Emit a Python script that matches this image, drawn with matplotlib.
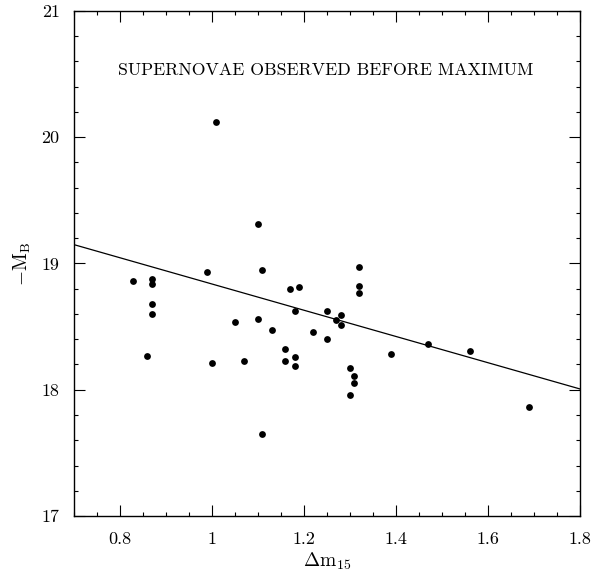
import matplotlib
matplotlib.use("Agg")
import matplotlib.pyplot as plt
import numpy as np
from matplotlib.ticker import MultipleLocator, FuncFormatter

plt.rcParams["font.family"] = ["cmr10", "DejaVu Serif"]
plt.rcParams["mathtext.fontset"] = "cm"
plt.rcParams["axes.formatter.use_mathtext"] = True

# decline rate and peak magnitude (-M_B) of the supernovae
dm15 = [0.83, 0.87, 0.87, 0.87, 0.87, 0.86, 0.99, 1.00, 1.05, 1.07,
        1.10, 1.11, 1.10, 1.11, 1.13, 1.16, 1.16, 1.17, 1.19, 1.18,
        1.18, 1.18, 1.22, 1.25, 1.25, 1.27, 1.28, 1.28, 1.32, 1.32,
        1.32, 1.30, 1.31, 1.31, 1.30, 1.39, 1.47, 1.56, 1.69, 1.01]
neg_mb = [18.86, 18.88, 18.84, 18.68, 18.60, 18.27, 18.93, 18.21, 18.54, 18.23,
          19.31, 18.95, 18.56, 17.65, 18.47, 18.32, 18.23, 18.80, 18.81, 18.62,
          18.26, 18.19, 18.46, 18.62, 18.40, 18.55, 18.59, 18.51, 18.97, 18.82,
          18.77, 18.17, 18.11, 18.05, 17.96, 18.28, 18.36, 18.31, 17.86, 20.12]

# linear fit: -M_B = intercept + slope * dm15
fit_slope = -1.04
fit_intercept = 19.878

fig = plt.figure(figsize=(6.03, 5.74), dpi=100)
ax = fig.add_axes([0.122, 0.101, 0.840, 0.880])

ax.plot(dm15, neg_mb, "o", color="black", ms=4.9, mew=0)
xfit = np.array([0.7, 1.8])
ax.plot(xfit, np.polyval([fit_slope, fit_intercept], xfit), color="black", lw=0.9)

ax.set_xlim(0.7, 1.8)
ax.set_ylim(17, 21)
ax.xaxis.set_major_locator(MultipleLocator(0.2))
ax.xaxis.set_minor_locator(MultipleLocator(0.05))
ax.yaxis.set_major_locator(MultipleLocator(1))
ax.yaxis.set_minor_locator(MultipleLocator(0.2))
ax.xaxis.set_major_formatter(FuncFormatter(lambda v, p: f"{v:g}"))
ax.yaxis.set_major_formatter(FuncFormatter(lambda v, p: f"{v:g}"))
ax.tick_params(which="both", direction="in", top=True, right=True, width=0.8)
ax.tick_params(which="major", length=8, labelsize=13)
ax.tick_params(axis="x", which="major", pad=11)
ax.tick_params(axis="y", which="major", pad=10)
ax.tick_params(which="minor", length=3.2)
for s in ax.spines.values():
    s.set_linewidth(1.0)

ax.set_xlabel(r"$\Delta\mathrm{m}_{15}$", fontsize=14, labelpad=3)
ax.set_ylabel(r"$-\mathrm{M}_\mathrm{B}$", fontsize=14, labelpad=6)
ax.text(1.247, 20.53, "SUPERNOVAE OBSERVED BEFORE MAXIMUM", ha="center",
        va="center", fontsize=12.8)

fig.savefig("out.png", dpi=100)
